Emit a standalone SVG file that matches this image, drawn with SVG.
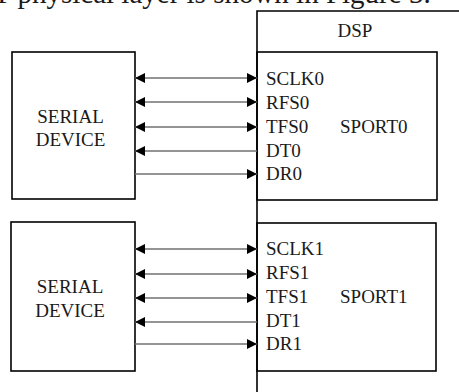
<svg xmlns="http://www.w3.org/2000/svg" width="459" height="392" viewBox="0 0 459 392">
<style>
.t{font-family:'Liberation Serif','Times New Roman',Tinos,serif;fill:#1a1a1a}
.lbl{font-size:19px}
.box{fill:none;stroke:#000;stroke-width:1.6}
.wire{stroke:#707070;stroke-width:1.3;fill:none}
</style>
<defs>
<marker id="ah" viewBox="0 0 10 10" refX="10" refY="5" markerWidth="12" markerHeight="10" markerUnits="userSpaceOnUse" orient="auto-start-reverse">
<path d="M0,0 L10,5 L0,10 Z" fill="#000"/>
</marker>
</defs>
<rect width="459" height="392" fill="#fff"/>
<text class="t" x="-7" y="3" font-size="29">T physical layer is shown in Figure 3.</text>
<g id="dsp">
<path class="box" d="M257,392 V11 H460"/>
<text class="t lbl" x="355" y="37" text-anchor="middle">DSP</text>
</g>
<g id="sport0">
<rect class="box" x="257" y="52" width="180" height="148"/>
<text class="t lbl" x="266" y="85">SCLK0</text>
<text class="t lbl" x="266" y="109">RFS0</text>
<text class="t lbl" x="266" y="133">TFS0</text>
<text class="t lbl" x="266" y="157">DT0</text>
<text class="t lbl" x="266" y="180">DR0</text>
<text class="t lbl" x="340" y="133">SPORT0</text>
</g>
<g id="sport1">
<rect class="box" x="257" y="223" width="179" height="148"/>
<text class="t lbl" x="266" y="255">SCLK1</text>
<text class="t lbl" x="266" y="279">RFS1</text>
<text class="t lbl" x="266" y="303">TFS1</text>
<text class="t lbl" x="266" y="327">DT1</text>
<text class="t lbl" x="266" y="350">DR1</text>
<text class="t lbl" x="340" y="303">SPORT1</text>
</g>
<g id="serial0">
<rect class="box" x="12" y="52" width="123" height="147"/>
<text class="t lbl" x="70.5" y="123" text-anchor="middle">SERIAL</text>
<text class="t lbl" x="70.5" y="146" text-anchor="middle">DEVICE</text>
</g>
<g id="serial1">
<rect class="box" x="11" y="222" width="124" height="149"/>
<text class="t lbl" x="70" y="293" text-anchor="middle">SERIAL</text>
<text class="t lbl" x="70" y="317" text-anchor="middle">DEVICE</text>
</g>
<g id="connectors">
<line class="wire" x1="135" y1="78" x2="257" y2="78" marker-start="url(#ah)" marker-end="url(#ah)"/>
<line class="wire" x1="135" y1="102" x2="257" y2="102" marker-start="url(#ah)" marker-end="url(#ah)"/>
<line class="wire" x1="135" y1="127" x2="257" y2="127" marker-start="url(#ah)" marker-end="url(#ah)"/>
<line class="wire" x1="135" y1="151" x2="257" y2="151" marker-start="url(#ah)"/>
<line class="wire" x1="135" y1="174" x2="257" y2="174" marker-end="url(#ah)"/>
<line class="wire" x1="135" y1="249" x2="257" y2="249" marker-start="url(#ah)" marker-end="url(#ah)"/>
<line class="wire" x1="135" y1="274" x2="257" y2="274" marker-start="url(#ah)" marker-end="url(#ah)"/>
<line class="wire" x1="135" y1="298" x2="257" y2="298" marker-start="url(#ah)" marker-end="url(#ah)"/>
<line class="wire" x1="135" y1="322" x2="257" y2="322" marker-start="url(#ah)"/>
<line class="wire" x1="135" y1="344" x2="257" y2="344" marker-end="url(#ah)"/>
</g>
</svg>
